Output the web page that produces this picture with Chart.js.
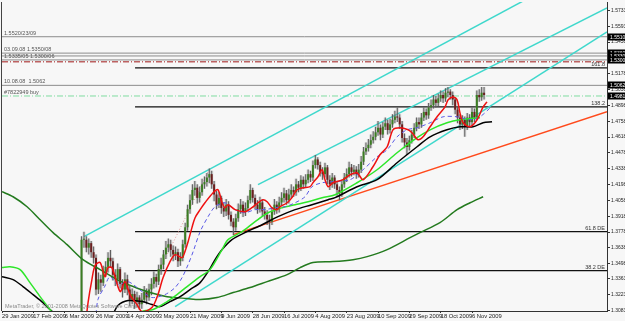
<!DOCTYPE html>
<html lang="en">
<head>
    <meta charset="UTF-8">
    <title>EURUSD Daily 2009</title>
    <script src="https://cdn.jsdelivr.net/npm/chart.js"></script>
    <style>
        html, body { margin: 0; padding: 0; background: #f7f7f7; overflow: hidden; }
        #wrap { width: 625px; height: 321px; }
    </style>
</head>
<body>
<div id="wrap"><canvas id="chart" width="625" height="321"></canvas></div>
<script>
    // ---- price data (daily bars, index 33 = first visible candle) ----
    const firstBar = 33;
    const firstOpen = 1.300;
    const closes = [
        1.371,1.371,1.364,1.368,1.360,1.355,1.327,1.336,1.333,1.343,
        1.347,1.355,1.352,1.340,1.336,1.345,1.332,1.327,1.336,1.327,
        1.318,1.323,1.316,1.320,1.314,1.318,1.325,1.320,1.327,1.332,
        1.338,1.334,1.345,1.349,1.358,1.364,1.367,1.362,1.358,1.360,
        1.352,1.355,1.367,1.382,1.398,1.406,1.415,1.417,1.408,1.413,
        1.420,1.422,1.426,1.429,1.420,1.411,1.402,1.408,1.399,1.396,
        1.402,1.393,1.387,1.382,1.390,1.398,1.402,1.396,1.399,1.406,
        1.415,1.408,1.402,1.398,1.404,1.396,1.393,1.389,1.387,1.396,
        1.402,1.398,1.404,1.408,1.412,1.406,1.411,1.415,1.413,1.420,
        1.417,1.424,1.420,1.424,1.429,1.426,1.437,1.442,1.437,1.431,
        1.429,1.435,1.424,1.420,1.426,1.420,1.415,1.412,1.420,1.426,
        1.429,1.435,1.431,1.433,1.429,1.433,1.440,1.449,1.452,1.455,
        1.459,1.462,1.466,1.470,1.464,1.471,1.474,1.468,1.473,1.477,
        1.480,1.479,1.473,1.461,1.457,1.453,1.459,1.464,1.470,1.475,
        1.473,1.479,1.484,1.481,1.488,1.490,1.495,1.492,1.496,1.499,
        1.496,1.501,1.502,1.499,1.495,1.486,1.479,1.473,1.477,1.471,
        1.479,1.475,1.484,1.479,1.499,1.497,1.501,1.499
    ];
    const highs = [
        1.374,1.378,1.374,1.372,1.370,1.365,1.358,1.342,1.340,1.348,
        1.352,1.360,1.362,1.355,1.345,1.350,1.347,1.336,1.342,1.340,
        1.330,1.328,1.326,1.325,1.322,1.324,1.330,1.328,1.332,1.337,
        1.343,1.341,1.349,1.355,1.362,1.370,1.372,1.371,1.366,1.365,
        1.363,1.360,1.371,1.386,1.402,1.411,1.420,1.423,1.420,1.418,
        1.425,1.427,1.430,1.434,1.432,1.423,1.414,1.413,1.410,1.404,
        1.407,1.405,1.396,1.390,1.394,1.403,1.407,1.405,1.404,1.410,
        1.420,1.417,1.411,1.406,1.409,1.407,1.400,1.397,1.393,1.400,
        1.407,1.405,1.409,1.413,1.417,1.415,1.416,1.420,1.418,1.425,
        1.423,1.428,1.427,1.429,1.433,1.432,1.441,1.446,1.444,1.440,
        1.435,1.439,1.437,1.428,1.430,1.428,1.423,1.418,1.424,1.430,
        1.434,1.440,1.438,1.437,1.436,1.438,1.445,1.453,1.457,1.460,
        1.464,1.467,1.471,1.476,1.473,1.475,1.479,1.477,1.478,1.482,
        1.485,1.488,1.482,1.476,1.465,1.461,1.463,1.468,1.474,1.479,
        1.479,1.483,1.488,1.487,1.492,1.495,1.499,1.498,1.500,1.503,
        1.502,1.505,1.506,1.504,1.502,1.497,1.489,1.482,1.481,1.480,
        1.483,1.482,1.488,1.487,1.503,1.504,1.506,1.506
    ];
    const lows = [
        1.299,1.364,1.360,1.358,1.355,1.350,1.322,1.323,1.325,1.330,
        1.338,1.342,1.346,1.335,1.330,1.332,1.328,1.320,1.324,1.322,
        1.312,1.314,1.310,1.311,1.309,1.310,1.315,1.314,1.317,1.322,
        1.328,1.329,1.331,1.340,1.345,1.354,1.360,1.356,1.352,1.353,
        1.347,1.348,1.352,1.364,1.379,1.394,1.402,1.410,1.403,1.404,
        1.410,1.416,1.418,1.421,1.416,1.405,1.398,1.399,1.394,1.391,
        1.392,1.389,1.383,1.375,1.379,1.387,1.394,1.391,1.392,1.396,
        1.403,1.404,1.398,1.394,1.395,1.392,1.389,1.384,1.380,1.384,
        1.393,1.394,1.395,1.401,1.404,1.402,1.403,1.408,1.409,1.410,
        1.413,1.414,1.416,1.417,1.421,1.422,1.423,1.434,1.433,1.427,
        1.424,1.426,1.420,1.415,1.417,1.416,1.410,1.406,1.409,1.417,
        1.422,1.426,1.427,1.428,1.425,1.426,1.430,1.437,1.446,1.449,
        1.452,1.456,1.459,1.463,1.459,1.461,1.468,1.464,1.465,1.470,
        1.474,1.475,1.469,1.457,1.452,1.446,1.450,1.456,1.461,1.467,
        1.469,1.470,1.476,1.477,1.478,1.485,1.487,1.488,1.489,1.493,
        1.492,1.493,1.497,1.495,1.490,1.482,1.474,1.468,1.469,1.462,
        1.468,1.471,1.472,1.475,1.477,1.493,1.494,1.495
    ];

    // ---- indicator lines: [bar index, price] ----
    const redMA = [[34.4,1.2916],[35.7,1.3154],[37.3,1.3358],[38.6,1.3481],[40.7,1.3508],[42.7,1.3384],[44.0,1.3464],[45.6,1.3464],[49.0,1.3252],[51.0,1.3340],[53.1,1.3225],[56.0,1.3137],[58.1,1.3075],[62.2,1.3110],[64.7,1.3225],[66.8,1.3375],[69.7,1.3517],[71.8,1.3578],[74.7,1.3552],[75.9,1.3605],[77.2,1.3693],[78.8,1.3817],[80.1,1.3905],[82.2,1.3976],[84.2,1.4037],[87.6,1.4126],[89.6,1.4152],[91.3,1.4037],[92.5,1.3993],[93.8,1.4020],[96.7,1.3976],[100.8,1.3958],[103.7,1.3993],[106.2,1.4037],[108.3,1.4064],[110.0,1.4046],[112.0,1.3993],[114.1,1.3976],[115.4,1.4002],[118.3,1.4037],[120.3,1.4082],[122.4,1.4152],[124.9,1.4170],[127.8,1.4179],[129.0,1.4214],[131.1,1.4267],[132.8,1.4329],[134.0,1.4241],[135.3,1.4179],[137.3,1.4214],[141.5,1.4241],[144.4,1.4285],[147.3,1.4302],[149.8,1.4241],[153.9,1.4355],[156.8,1.4461],[159.8,1.4532],[162.2,1.4682],[165.1,1.4700],[168.5,1.4682],[170.1,1.4656],[172.6,1.4594],[174.7,1.4620],[177.6,1.4709],[180.5,1.4797],[183.8,1.4885],[185.1,1.4947],[187.1,1.4973],[188.8,1.4947],[190.0,1.4832],[191.3,1.4744],[194.2,1.4709],[197.1,1.4771],[199.6,1.4885],[201.2,1.4929]];
    const blueMA = [[38.8,1.2990],[39.8,1.3181],[42.7,1.3300],[44.8,1.3384],[48.1,1.3314],[52.3,1.3340],[58.1,1.3252],[62.2,1.3199],[67.6,1.3225],[71.8,1.3287],[74.7,1.3375],[77.2,1.3490],[79.3,1.3605],[82.2,1.3781],[85.5,1.3914],[88.4,1.4002],[92.5,1.4037],[96.7,1.3976],[100.8,1.3949],[105.0,1.3976],[109.1,1.3976],[113.3,1.3993],[117.4,1.4002],[121.6,1.4037],[125.7,1.4090],[128.6,1.4179],[132.8,1.4214],[136.9,1.4223],[144.4,1.4241],[149.8,1.4329],[155.6,1.4444],[159.8,1.4506],[163.9,1.4620],[168.0,1.4682],[172.2,1.4700],[177.6,1.4744],[183.0,1.4797],[188.8,1.4797],[194.2,1.4771],[198.3,1.4797],[202.5,1.4876]];
    const limeMA = [[0,1.3464],[3.3,1.3472],[7.5,1.3446],[11.6,1.3331],[15.8,1.3207],[19.9,1.3093],[24,1.2980],[40,1.2850],[52,1.2920],[58.1,1.3075],[62.7,1.3093],[68.5,1.3163],[72.6,1.3225],[76.8,1.3296],[82.2,1.3384],[86.3,1.3446],[91.3,1.3623],[93.8,1.3711],[99.6,1.3781],[105.0,1.3870],[110.4,1.3949],[116.2,1.3993],[121.6,1.4020],[127.0,1.4046],[132.8,1.4082],[138.2,1.4108],[147.3,1.4214],[155.6,1.4329],[163.9,1.4479],[172.2,1.4612],[177.6,1.4682],[184.6,1.4744],[190.0,1.4771],[198.3,1.4788]];
    const blackMA = [[0,1.3384],[4.6,1.3358],[8.7,1.3296],[12.9,1.3225],[17.0,1.3154],[19.9,1.3093],[26,1.3000],[44,1.3000],[48.1,1.3128],[52.3,1.3172],[58.1,1.3163],[62.2,1.3137],[65.6,1.3119],[69.7,1.3163],[73.9,1.3207],[78.0,1.3269],[82.2,1.3331],[86.3,1.3455],[88.4,1.3534],[91.3,1.3623],[95.4,1.3711],[100.8,1.3773],[107.9,1.3843],[114.5,1.3914],[121.6,1.3976],[128.6,1.4020],[135.3,1.4064],[138.2,1.4082],[147.3,1.4179],[155.6,1.4241],[163.9,1.4391],[172.2,1.4532],[177.6,1.4620],[184.6,1.4682],[190.0,1.4709],[195.4,1.4709],[199.6,1.4744],[203.3,1.4753]];
    const darkGreenMA = [[0,1.4135],[4.6,1.4090],[10.4,1.4002],[15.8,1.3887],[21.2,1.3773],[27.0,1.3667],[33.6,1.3534],[40.7,1.3446],[47.7,1.3358],[54.4,1.3296],[61.4,1.3243],[68.5,1.3207],[76.8,1.3190],[82.2,1.3181],[89.2,1.3199],[95.9,1.3243],[102.9,1.3287],[110.0,1.3340],[118.3,1.3402],[123.7,1.3464],[129.0,1.3508],[137.3,1.3517],[145.6,1.3534],[151.5,1.3561],[159.8,1.3623],[169.3,1.3728],[173.4,1.3773],[181.7,1.3861],[188.8,1.3976],[194.2,1.4037],[199.6,1.4090]];

    // trend / channel lines: [start, end] as [bar index, price]
    const channelLines = [
        [[34.0,1.3737],[217.0,1.5830]],
        [[106.2,1.4197],[251,1.5759]],
        [[71.8,1.3119],[251,1.5547]]
    ];
    const trendLine = [[95.9,1.3755],[251,1.4841]];
    const fibRay = [[59.3,1.3181],[85.9,1.4329]];

    // horizontal levels
    const grayLevels = [1.5505, 1.5360, 1.5335, 1.5300, 1.5075];
    const redDashLevel = 1.5283;
    const greenDashLevel = 1.4981;
    const fibLevels = [1.5230, 1.4885, 1.3782, 1.3437];
    const fibNames = ['161.8', '138.2', '61.8 DE', '38.2 DE'];
    const fibFrom = 55.2;
    const levelNotes = [
        [1.5505, '1.5520/23/09'],
        [1.5360, '03.09.08 1.5350/08'],
        [1.5300, '1.5335/05 1.5300/06'],
        [1.5075, '10.08.08  1.5062'],
        [1.4981, '#7822949 buy']
    ];
    const boxLevels = [1.5505, 1.5360, 1.5335, 1.5300, 1.5075, 1.4981];
    const boxTexts = ['1.5510', '1.5360', '1.5330', '1.5300', '1.5062', '1.4981'];

    // axes
    const yTicks = [1.5733,1.5593,1.5458,1.5318,1.5178,1.5038,1.4898,1.4758,1.4618,1.4478,1.4338,1.4198,1.4058,1.3918,1.3778,1.3638,1.3498,1.3363,1.3223,1.3083];
    const dateTicks = [0,13,26,39,52,65,78,91,104,117,130,143,156,169,182,195];
    const dateLabels = ['29 Jan 2009','17 Feb 2009','6 Mar 2009','26 Mar 2009','14 Apr 2009','3 May 2009','21 May 2009','9 Jun 2009','28 Jun 2009','16 Jul 2009','4 Aug 2009','23 Aug 2009','10 Sep 2009','29 Sep 2009','18 Oct 2009','6 Nov 2009'];

    const FONT = "'Liberation Sans', 'DejaVu Sans', sans-serif";
    const X_MAX = 251;

    const candles = closes.map((c, k) => ({
        i: firstBar + k,
        o: k === 0 ? firstOpen : closes[k - 1],
        h: highs[k],
        l: lows[k],
        c: c
    }));

    const pts = arr => arr.map(([x, y]) => ({ x, y }));

    function lineSet(data, color, width, order, extra) {
        return Object.assign({
            type: 'line', data: pts(data), borderColor: color, borderWidth: width,
            pointRadius: 0, fill: false, tension: 0, order: order
        }, extra || {});
    }

    const datasets = [];

    // levels (bottom layer)
    grayLevels.forEach(v => datasets.push(lineSet([[0, v], [X_MAX, v]], '#8c8c8c', 1, 20)));
    datasets.push(lineSet([[0, redDashLevel], [X_MAX, redDashLevel]], '#a01818', 1, 20, { borderDash: [6, 2, 1, 2] }));
    datasets.push(lineSet([[0, greenDashLevel], [X_MAX, greenDashLevel]], '#7fdca0', 1, 20, { borderDash: [6, 2, 1, 2] }));
    fibLevels.forEach(v => datasets.push(lineSet([[fibFrom, v], [X_MAX, v]], '#111111', 1.2, 19)));

    // channels / trend lines
    channelLines.forEach(l => datasets.push(lineSet(l, '#3fd8cc', 1.5, 18)));
    datasets.push(lineSet(trendLine, '#ff4a1c', 1.5, 18));
    datasets.push(lineSet(fibRay, '#e29a9a', 1, 18, { borderDash: [1, 2] }));

    // candles
    const barCommon = { type: 'bar', grouped: false, categoryPercentage: 1, barPercentage: 2, borderWidth: 0 };
    datasets.push(Object.assign({}, barCommon, {
        data: candles.map(b => ({ x: b.i, y: [b.l, b.h] })),
        backgroundColor: 'rgba(140,140,140,0.28)', maxBarThickness: 3, order: 12
    }));
    datasets.push(Object.assign({}, barCommon, {
        data: candles.map(b => ({ x: b.i, y: [b.l, b.h] })),
        backgroundColor: '#5c5c5c', maxBarThickness: 1, order: 11
    }));
    datasets.push(Object.assign({}, barCommon, {
        data: candles.map(b => ({ x: b.i, y: [b.o, b.c] })),
        backgroundColor: ctx => (ctx.raw && ctx.raw.y[1] >= ctx.raw.y[0]) ? '#3b7d23' : '#6a1f1f',
        maxBarThickness: 2, minBarLength: 1, order: 10
    }));

    // moving averages (top layer)
    datasets.push(lineSet(darkGreenMA, '#237a1e', 1.5, 5, { tension: 0.3 }));
    datasets.push(lineSet(blackMA, '#000000', 1.5, 4, { tension: 0.3 }));
    datasets.push(lineSet(limeMA, '#2ee62a', 1.5, 3, { tension: 0.3 }));
    datasets.push(lineSet(blueMA, '#5a5ae6', 1, 2, { tension: 0.3, borderDash: [4, 3] }));
    datasets.push(lineSet(redMA, '#ee1111', 1.5, 1, { tension: 0.3 }));

    const backdrop = {
        id: 'backdrop',
        beforeDraw(chart) {
            const c = chart.ctx;
            c.save();
            c.fillStyle = '#f7f7f7';
            c.fillRect(0, 0, chart.width, chart.height);
            c.restore();
        }
    };

    const annotations = {
        id: 'annotations',
        afterDatasetsDraw(chart) {
            const c = chart.ctx, y = chart.scales.y, a = chart.chartArea;
            c.save();
            c.font = '5.5px ' + FONT;
            c.fillStyle = '#555';
            c.textBaseline = 'alphabetic';
            c.textAlign = 'left';
            levelNotes.forEach(([v, t]) => c.fillText(t, 4, y.getPixelForValue(v) - 2));
            c.fillStyle = '#333';
            c.textAlign = 'right';
            fibLevels.forEach((v, k) => c.fillText(fibNames[k], a.right - 2, y.getPixelForValue(v) - 2));
            c.textAlign = 'left';
            c.fillStyle = '#8a8a8a';
            c.fillText('MetaTrader, \u00a9 2001-2008 MetaQuotes Software Corp.', 5, a.bottom - 3);
            c.restore();
        },
        afterDraw(chart) {
            const c = chart.ctx, y = chart.scales.y, a = chart.chartArea;
            c.save();
            c.strokeStyle = '#444';
            c.lineWidth = 1;
            c.beginPath();
            c.moveTo(1.5, a.top);
            c.lineTo(1.5, a.bottom);
            c.stroke();
            c.font = '5px ' + FONT;
            c.textBaseline = 'middle';
            boxLevels.forEach((v, k) => {
                const py = Math.round(y.getPixelForValue(v));
                c.fillStyle = '#000';
                c.fillRect(a.right + 1, py - 3.5, chart.width - a.right, 7);
                c.fillStyle = '#fff';
                c.fillText(boxTexts[k], a.right + 3, py + 0.5);
            });
            c.restore();
        }
    };

    new Chart(document.getElementById('chart'), {
        type: 'bar',
        data: { datasets },
        options: {
            responsive: false,
            animation: false,
            events: [],
            layout: { padding: { left: 2, top: 2, right: 0, bottom: 0 } },
            plugins: { legend: { display: false }, tooltip: { enabled: false } },
            scales: {
                x: {
                    type: 'linear', min: 0, max: X_MAX, offset: false,
                    afterBuildTicks: s => { s.ticks = dateTicks.map(v => ({ value: v })); },
                    afterFit: s => { s.height = 10; s.paddingLeft = 0; s.paddingRight = 0; },
                    ticks: {
                        autoSkip: false, maxRotation: 0, minRotation: 0, align: 'start', padding: 0,
                        color: '#222', font: { size: 5.8, family: FONT },
                        callback: (v, i) => dateLabels[i]
                    },
                    grid: { drawOnChartArea: false, offset: false, tickLength: 2, tickColor: '#333' },
                    border: { color: '#333' }
                },
                y: {
                    position: 'right', min: 1.3080, max: 1.5812, stacked: false,
                    afterBuildTicks: s => { s.ticks = yTicks.map(v => ({ value: v })); },
                    afterFit: s => { s.width = 18; s.paddingTop = 0; s.paddingBottom = 0; },
                    ticks: {
                        autoSkip: false, padding: 1, color: '#222', font: { size: 5, family: FONT },
                        callback: v => v.toFixed(4)
                    },
                    grid: { drawOnChartArea: false, tickLength: 3, tickColor: '#333' },
                    border: { color: '#333' }
                }
            }
        },
        plugins: [backdrop, annotations]
    });
</script>
</body>
</html>
